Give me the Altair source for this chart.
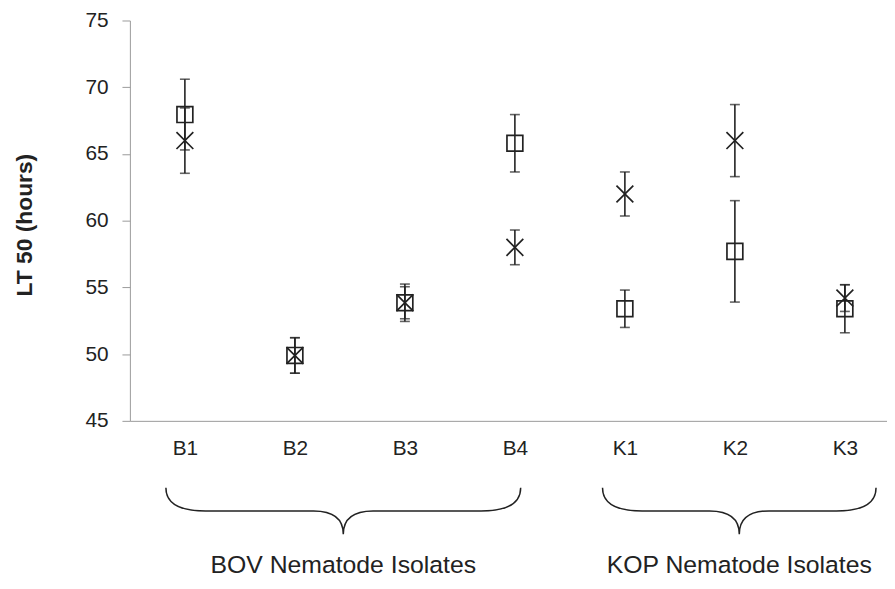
import json
import altair as alt
import pandas as pd

# ---- data ----
isolates = ["B1", "B2", "B3", "B4", "K1", "K2", "K3"]
square_mean = [67.95, 49.9, 53.85, 65.8, 53.4, 57.7, 53.4]
square_err = [2.65, 1.33, 1.4, 2.15, 1.4, 3.8, 1.8]
cross_mean = [66.0, 49.9, 53.85, 58.0, 62.0, 66.0, 54.2]
cross_err = [2.45, 1.33, 1.2, 1.3, 1.65, 2.7, 1.0]

groups = ["BOV Nematode Isolates", "KOP Nematode Isolates"]
group_center = [1.44, 5.04]      # brace / label centre, in category index units
group_halfwidth_px = [179, 138]  # brace half width

y_ticks = [45, 50, 55, 60, 65, 70, 75]

INK = "#222222"
AXIS = "#9a9a9a"
FONT = "Liberation Sans"

W, H = 764, 404
x_dom = [-0.5, -0.5 + W / 111.0]
x_scale = alt.Scale(domain=x_dom, nice=False, zero=False)
y_scale = alt.Scale(domain=[45, 75], nice=False, zero=False)

rows = []
for i, name in enumerate(isolates):
    rows.append(dict(idx=i, name=name, series="square", mean=square_mean[i],
                     lo=square_mean[i] - square_err[i], hi=square_mean[i] + square_err[i]))
    rows.append(dict(idx=i, name=name, series="cross", mean=cross_mean[i],
                     lo=cross_mean[i] - cross_err[i], hi=cross_mean[i] + cross_err[i]))
df = pd.DataFrame(rows)

caps = pd.concat([
    df[["idx", "lo"]].rename(columns={"lo": "v"}),
    df[["idx", "hi"]].rename(columns={"hi": "v"}),
])

x_axis = alt.Axis(values=list(range(len(isolates))),
                  labelExpr=json.dumps(isolates) + "[datum.value]",
                  ticks=False, grid=False, domainColor=AXIS, domainWidth=1,
                  labelFontSize=21, labelPadding=17, labelColor=INK, labelFont=FONT,
                  labelFlush=False, labelOverlap=False, title=None)
y_axis = alt.Axis(values=y_ticks, tickSize=8, tickColor=AXIS, tickWidth=1,
                  domainColor=AXIS, domainWidth=1, grid=False,
                  labelFontSize=21, labelPadding=14, labelColor=INK, labelFont=FONT,
                  title="LT 50 (hours)", titleFontSize=23, titleFontWeight="bold",
                  titleColor=INK, titleFont=FONT, titleAngle=270, titleX=-106,
                  titleY=H / 2 + 4, titleAlign="center", titleBaseline="middle")

base = alt.Chart(df)

rules = base.mark_rule(color=INK, strokeWidth=1.6).encode(
    x=alt.X("idx:Q", scale=x_scale, axis=x_axis),
    y=alt.Y("lo:Q", scale=y_scale, axis=y_axis),
    y2="hi:Q",
)

cap_marks = alt.Chart(caps).mark_point(
    shape="M -1 0 L 1 0", size=100, filled=False, color=INK, strokeWidth=1.6
).encode(x=alt.X("idx:Q", scale=x_scale), y=alt.Y("v:Q", scale=y_scale))

squares = base.transform_filter(alt.datum.series == "square").mark_point(
    shape="square", size=256, filled=False, color=INK, strokeWidth=1.7, opacity=1
).encode(x=alt.X("idx:Q", scale=x_scale), y=alt.Y("mean:Q", scale=y_scale))

crosses = base.transform_filter(alt.datum.series == "cross").mark_point(
    shape="M -1 -1 L 1 1 M -1 1 L 1 -1", size=289, filled=False, color=INK,
    strokeWidth=1.7, opacity=1
).encode(x=alt.X("idx:Q", scale=x_scale), y=alt.Y("mean:Q", scale=y_scale))

layers = [rules, cap_marks, squares, crosses]

brace_y = 38.25
label_y = 34.2
for g, c, hw in zip(groups, group_center, group_halfwidth_px):
    h = 23.5 / hw
    a = 40.0 / hw
    b = 30.0 / hw
    path = (f"M -1 {-h:.4f} Q -1 0 {-1 + a:.4f} 0 L {-b:.4f} 0 Q 0 0 0 {h:.4f} "
            f"Q 0 0 {b:.4f} 0 L {1 - a:.4f} 0 Q 1 0 1 {-h:.4f}")
    gdf = pd.DataFrame({"x": [c], "y": [brace_y], "ly": [label_y], "label": [g]})
    layers.append(alt.Chart(gdf).mark_point(
        shape=path, size=(2 * hw) ** 2, filled=False, color=INK, strokeWidth=1.5, opacity=1
    ).encode(x=alt.X("x:Q", scale=x_scale), y=alt.Y("y:Q", scale=y_scale)))
    layers.append(alt.Chart(gdf).mark_text(
        fontSize=25, font=FONT, color=INK, align="center", baseline="middle"
    ).encode(x=alt.X("x:Q", scale=x_scale), y=alt.Y("ly:Q", scale=y_scale), text="label:N"))

chart = alt.layer(*layers).properties(
    width=W, height=H,
    autosize=alt.AutoSizeParams(type="none"),
    padding={"left": 123, "top": 10, "right": 0, "bottom": 159},
).configure_view(strokeWidth=0)

chart.save("out.html", embed_options={"renderer": "svg", "actions": False})
